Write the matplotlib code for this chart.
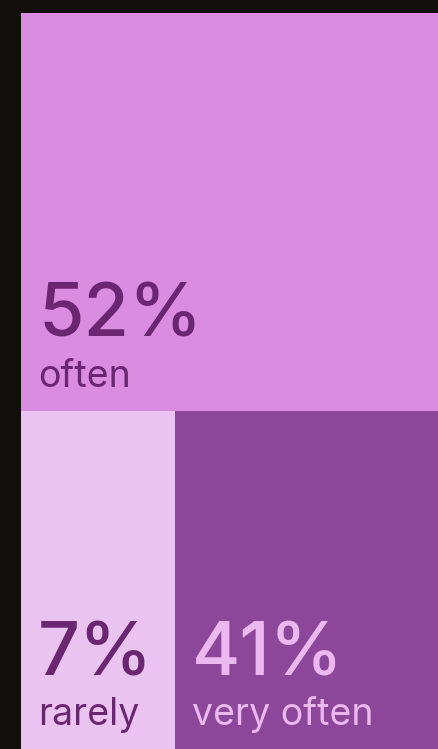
import matplotlib
matplotlib.use("Agg")
import matplotlib.pyplot as plt
from matplotlib.patches import Rectangle
from matplotlib.transforms import offset_copy

# data
answers = ["often", "rarely", "very often"]
shares = [52, 7, 41]
fills = ["#da8ce0", "#ebc3f0", "#8d479a"]
text_cols = ["#6b2672", "#6b2672", "#ebb8f0"]

W, H = 439, 749
fig = plt.figure(figsize=(W / 100, H / 100), dpi=100)
fig.patch.set_facecolor("#120e0b")

# the treemap is bigger than the picture: it is cut on the right and bottom
tm_w, tm_h = 1055, 765
ax = fig.add_axes([21 / W, 1 - (13 + tm_h) / H, tm_w / W, tm_h / H])
ax.set_xlim(0, 1)
ax.set_ylim(1, 0)
ax.axis("off")

# slice layout: first item on top, rest side by side below
top = shares[0] / sum(shares)
rest = sum(shares[1:])
rects = [(0, 0, 1, top)]
x = 0
for s in shares[1:]:
    w = s / rest
    rects.append((x, top, w, 1 - top))
    x += w

for (x0, y0, w, h), c in zip(rects, fills):
    ax.add_patch(Rectangle((x0, y0), w, h, facecolor=c, edgecolor="none"))

# labels sit near the visible bottom of each box
vis_bottom = ax.transData.inverted().transform((0, 0))[1]
for (x0, y0, w, h), s, name, tc in zip(rects, shares, answers, text_cols):
    yb = min(y0 + h, vis_bottom)
    tr = offset_copy(ax.transData, fig=fig, x=17, y=24, units="dots")
    ax.text(x0, yb, name, transform=tr, fontsize=27, color=tc,
            family="Inter", weight="normal", ha="left", va="baseline")
    tr2 = offset_copy(ax.transData, fig=fig, x=17, y=74, units="dots")
    ax.text(x0, yb, f"{s}%", transform=tr2, fontsize=53, color=tc,
            family="Inter", weight="medium", ha="left", va="baseline")

fig.savefig("out.png", dpi=100, facecolor=fig.get_facecolor())
